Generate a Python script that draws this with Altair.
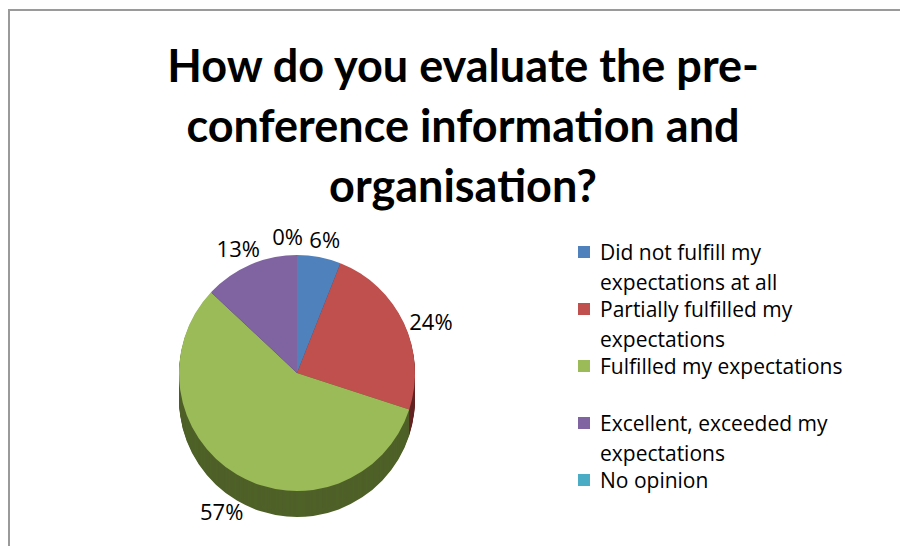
import altair as alt
import pandas as pd

# ---- data ----
categories = [
    "Did not fulfill my expectations at all",
    "Partially fulfilled my expectations",
    "Fulfilled my expectations",
    "Excellent, exceeded my expectations",
    "No opinion",
]
legend_text = [
    "Did not fulfill my\nexpectations at all",
    "Partially fulfilled my\nexpectations",
    "Fulfilled my expectations",
    "Excellent, exceeded my\nexpectations",
    "No opinion",
]
values = [6, 24, 57, 13, 0]
pct_labels = ["6%", "24%", "57%", "13%", "0%"]
title_lines = ["How do you evaluate the pre-", "conference information and", "organisation?"]

top_colors = ["#4F81BD", "#C0504D", "#9BBB59", "#8064A2", "#4BACC6"]
side_colors = ["#2C4D75", "#632523", "#4F6128", "#3F3151", "#215967"]

df = pd.DataFrame({
    "idx": list(range(len(categories))),
    "category": categories,
    "legend": legend_text,
    "value": values,
    "pct": pct_labels,
    "top": top_colors,
    "side": side_colors,
})

W, H = 892, 538
CX, CY, R, DEPTH = 289, 365, 118, 26
FONT = "Open Sans"

base = alt.Chart(df)
theta = alt.Theta("value:Q", stack=True)
order = alt.Order("idx:Q", sort="ascending")

layers = []
# side (depth) of the pie
for k in range(DEPTH, 0, -1):
    layers.append(
        base.mark_arc(outerRadius=R, strokeWidth=0).encode(
            theta=theta, order=order,
            color=alt.Color("side:N", scale=None),
            x=alt.value(CX), y=alt.value(CY + k),
        )
    )
# top face
layers.append(
    base.mark_arc(outerRadius=R, strokeWidth=0).encode(
        theta=theta, order=order,
        color=alt.Color("top:N", scale=None),
        x=alt.value(CX), y=alt.value(CY),
    )
)

# percentage labels (mid-angle of each slice, same theta scale as the arcs)
lab = base.transform_window(
    cum="sum(value)", sort=[alt.SortField("idx", order="ascending")],
    frame=[None, 0],
).transform_calculate(mid="datum.cum - datum.value / 2")
mid_theta = alt.Theta("mid:Q", stack=None)
layers.append(
    lab.transform_filter("datum.value > 0").mark_text(
        radius=R + 30, font=FONT, fontSize=22, color="#000000").encode(
        theta=mid_theta, text="pct:N",
        x=alt.value(CX), y=alt.value(CY + DEPTH / 2),
    )
)
layers.append(
    lab.transform_filter("datum.value == 0").mark_text(
        radius=R + 30, font=FONT, fontSize=22, color="#000000", align="right", dx=6).encode(
        theta=mid_theta, text="pct:N",
        x=alt.value(CX), y=alt.value(CY + DEPTH / 2),
    )
)

# legend
ypos = alt.Y("category:N", sort=categories, axis=None,
             scale=alt.Scale(type="point", range=[244, 472], padding=0))
layers.append(
    base.mark_square(size=144, opacity=1).encode(
        y=ypos, x=alt.value(576), color=alt.Color("top:N", scale=None),
    )
)
layers.append(
    base.mark_text(align="left", baseline="alphabetic", dy=8, font=FONT, fontSize=21,
                   lineBreak="\n", lineHeight=30, color="#000000").encode(
        y=ypos, x=alt.value(592), text="legend:N",
    )
)

one = alt.Chart(pd.DataFrame({"a": [0]}))
# title
layers.append(
    one.mark_text(font="Lato", fontWeight="bold", fontSize=45, lineHeight=60,
                  align="center", baseline="middle", color="#000000").encode(
        x=alt.value(455), y=alt.value(60), text=alt.value(title_lines),
    )
)
# frame lines (top and left only visible)
layers.append(
    one.mark_rule(color="#9a9a9a", strokeWidth=2).encode(
        x=alt.value(0), x2=alt.value(W), y=alt.value(2)
    )
)
layers.append(
    one.mark_rule(color="#9a9a9a", strokeWidth=2).encode(
        x=alt.value(1), y=alt.value(2), y2=alt.value(H)
    )
)

chart = alt.layer(*layers).properties(
    width=W, height=H, padding=0, autosize=alt.AutoSizeParams(type="none"),
    background="white",
).configure_view(stroke=None)

chart.save("out.html", embed_options={"renderer": "svg", "actions": False})
